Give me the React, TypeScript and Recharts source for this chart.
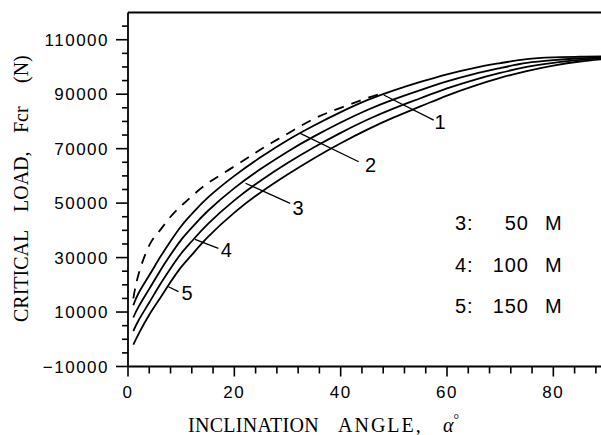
import React from 'react';
import { LineChart, Line, XAxis, YAxis, ReferenceLine, ReferenceDot } from 'recharts';

// inclination angle (deg) where the curves were read
const angles = [1, 2, 4, 6, 8, 10, 12, 15, 20, 25, 30, 35, 40, 45, 50, 55, 60, 65, 70, 75, 80, 85, 90];
const curve2 = [12500, 17000, 23500, 30000, 36000, 41500, 46000, 52000, 60000, 66900, 73100, 78500, 83400, 87800, 91400, 94500, 97300, 99600, 101400, 102900, 103500, 103800, 103900];
const curve3 = [8000, 12000, 18500, 25000, 31000, 36500, 41000, 47100, 55500, 62600, 68900, 74500, 79600, 84200, 88100, 91500, 94700, 97400, 99600, 101500, 102500, 103200, 103600];
const curve4 = [3000, 7000, 13500, 20000, 26000, 31500, 36000, 42300, 51000, 58300, 64700, 70500, 75800, 80600, 84800, 88500, 92100, 95200, 97800, 100000, 101500, 102600, 103300];
const curve5 = [-2000, 2000, 9000, 15000, 21000, 26500, 31000, 37500, 46500, 54000, 60500, 66500, 72000, 77000, 81500, 85500, 89500, 93000, 96000, 98500, 100500, 102000, 103000];

// dashed curve (1) stops where it joins curve 2
const dashedAngles = [1, 2, 4, 6, 8, 10, 12, 15, 20, 25, 30, 35, 40, 45, 48];
const curve1 = [15000, 24000, 34500, 40000, 45000, 49000, 52500, 57300, 63500, 69800, 75500, 81000, 85000, 88600, 90400];

const xTicks = [0, 4, 8, 12, 16, 20, 24, 28, 32, 36, 40, 44, 48, 52, 56, 60, 64, 68, 72, 76, 80, 84, 88];
const xLabels = [0, 20, 40, 60, 80];
const yTicks = [-10000, -5000, 0, 5000, 10000, 15000, 20000, 25000, 30000, 35000, 40000, 45000, 50000, 55000, 60000, 65000, 70000, 75000, 80000, 85000, 90000, 95000, 100000, 105000, 110000, 115000];
const yLabels = [-10000, 10000, 30000, 50000, 70000, 90000, 110000];

// curve numbers with their leader lines (angle, load)
const leaderNames = ['1', '2', '3', '4', '5'];
const leaderFrom = [[48.1, 89700], [32.4, 75600], [22.1, 57300], [12.6, 36700], [7.6, 19300]];
const leaderTo = [[57.5, 80500], [43.4, 65200], [30.5, 49900], [17.0, 33400], [9.5, 17500]];
const labelAt = [[58.7, 79900], [45.6, 64000], [32.0, 48200], [18.5, 32800], [11.1, 17000]];

const legendKeys = ['3:', '4:', '5:'];
const legendDepths = ['50', '100', '150'];

const toPoints = (xs: number[], ys: number[]) => xs.map((x, i) => ({ x, y: ys[i] }));

const TICK_FONT = '"Liberation Sans", Arial, sans-serif';
const SERIF = '"Liberation Serif", "Times New Roman", serif';

const fmt = (v: number) => (v < 0 ? '\u2212' + Math.abs(v) : String(v));

const YTick = (props: any) => {
  const { x, y, payload } = props;
  const major = yLabels.includes(payload.value);
  return (
    <g>
      <line x1={x} x2={x - (major ? 12 : 6)} y1={y} y2={y} stroke="#000" strokeWidth={1.6} />
      {major && (
        <text x={x - 19} y={y} dy="0.36em" textAnchor="end" fontFamily={TICK_FONT} fontSize={17} letterSpacing={1.5} fill="#000">
          {fmt(payload.value)}
        </text>
      )}
    </g>
  );
};

const XTick = (props: any) => {
  const { x, y, payload } = props;
  const major = xLabels.includes(payload.value);
  return (
    <g>
      <line x1={x} x2={x} y1={y} y2={y + (major ? 10 : 7)} stroke="#000" strokeWidth={1.6} />
      {major && (
        <text x={x} y={y + 31} textAnchor="middle" fontFamily={TICK_FONT} fontSize={17} letterSpacing={1.5} fill="#000">
          {payload.value}
        </text>
      )}
    </g>
  );
};

const textShape = (txt: string) => (p: any) => (
  <text x={p.cx} y={p.cy} dy="0.36em" textAnchor="middle" fontFamily={TICK_FONT} fontSize={20} fill="#000">
    {txt}
  </text>
);

export default function App() {
  return (
    <div style={{ position: 'absolute', left: 0, top: 0, width: 601, height: 435, overflow: 'hidden', background: '#fff' }}>
      <LineChart width={620} height={435} margin={{ top: 12.5, right: 13.5, left: 0, bottom: 0 }}>
        <XAxis
          type="number"
          dataKey="x"
          domain={[0, 90]}
          ticks={xTicks}
          interval={0}
          tick={<XTick />}
          tickLine={false}
          tickSize={0}
          tickMargin={0}
          axisLine={{ stroke: '#000', strokeWidth: 1.8 }}
          height={68.5}
          allowDataOverflow
        />
        <YAxis
          type="number"
          domain={[-10000, 120000]}
          ticks={yTicks}
          interval={0}
          tick={<YTick />}
          tickLine={false}
          tickSize={0}
          tickMargin={0}
          axisLine={{ stroke: '#000', strokeWidth: 1.8 }}
          width={128}
          allowDataOverflow
        />
        <ReferenceLine y={120000} stroke="#000" strokeWidth={1.8} />
        <ReferenceLine x={90} stroke="#000" strokeWidth={1.8} />

        <Line data={toPoints(dashedAngles, curve1)} dataKey="y" type="natural" stroke="#000" strokeWidth={1.8} strokeDasharray="10 8" dot={false} isAnimationActive={false} />
        <Line data={toPoints(angles, curve2)} dataKey="y" type="natural" stroke="#000" strokeWidth={1.8} dot={false} isAnimationActive={false} />
        <Line data={toPoints(angles, curve3)} dataKey="y" type="natural" stroke="#000" strokeWidth={1.8} dot={false} isAnimationActive={false} />
        <Line data={toPoints(angles, curve4)} dataKey="y" type="natural" stroke="#000" strokeWidth={1.8} dot={false} isAnimationActive={false} />
        <Line data={toPoints(angles, curve5)} dataKey="y" type="natural" stroke="#000" strokeWidth={1.8} dot={false} isAnimationActive={false} />

        {leaderNames.map((name, i) => (
          <ReferenceLine
            key={'l' + name}
            segment={[
              { x: leaderFrom[i][0], y: leaderFrom[i][1] },
              { x: leaderTo[i][0], y: leaderTo[i][1] }
            ]}
            stroke="#000"
            strokeWidth={1.3}
          />
        ))}
        {leaderNames.map((name, i) => (
          <ReferenceDot key={'t' + name} x={labelAt[i][0]} y={labelAt[i][1]} r={0} shape={textShape(name)} />
        ))}

        {/* depth legend */}
        <g fontFamily={TICK_FONT} fontSize={20} fill="#000" letterSpacing={1}>
          {legendKeys.map((k, i) => (
            <g key={k}>
              <text x={455} y={230 + i * 41.5}>{k}</text>
              <text x={529} y={230 + i * 41.5} textAnchor="end">{legendDepths[i]}</text>
              <text x={545} y={230 + i * 41.5}>M</text>
            </g>
          ))}
        </g>

        {/* axis titles */}
        <text y={432} fontFamily={SERIF} fontSize={20} fill="#000">
          <tspan x={188} letterSpacing={0.3}>INCLINATION</tspan>
          <tspan x={338} letterSpacing={2}>ANGLE,</tspan>
          <tspan x={443} fontStyle="italic">α</tspan>
          <tspan fontSize={14} dy={-8}>°</tspan>
        </text>
        <text transform="rotate(-90)" y={28} fontFamily={SERIF} fontSize={20} fill="#000">
          <tspan x={-322}>CRITICAL</tspan>
          <tspan x={-212}>LOAD,</tspan>
          <tspan x={-133}>Fcr</tspan>
          <tspan x={-83}>(N)</tspan>
        </text>
      </LineChart>
    </div>
  );
}
